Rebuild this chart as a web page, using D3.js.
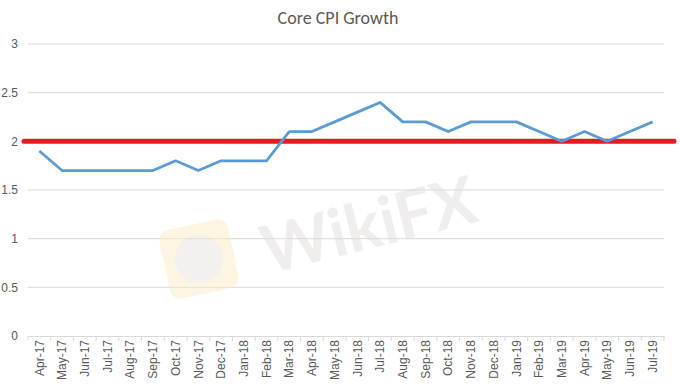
<!DOCTYPE html>
<html>
<head>
<meta charset="utf-8">
<script src="https://cdn.jsdelivr.net/npm/d3@7"></script>
<style>
  body { margin: 0; background: #fff; }
  svg { display: block; font-family: Calibri, Carlito, "Open Sans", sans-serif; }
</style>
</head>
<body>
<svg id="chart" width="680" height="386"></svg>
<script>
const months = ['Apr-17', 'May-17', 'Jun-17', 'Jul-17', 'Aug-17', 'Sep-17', 'Oct-17', 'Nov-17', 'Dec-17',
  'Jan-18', 'Feb-18', 'Mar-18', 'Apr-18', 'May-18', 'Jun-18', 'Jul-18', 'Aug-18', 'Sep-18', 'Oct-18',
  'Nov-18', 'Dec-18', 'Jan-19', 'Feb-19', 'Mar-19', 'Apr-19', 'May-19', 'Jun-19', 'Jul-19'];
const coreCpi = [1.9, 1.7, 1.7, 1.7, 1.7, 1.7, 1.8, 1.7, 1.8,
  1.8, 1.8, 2.1, 2.1, 2.2, 2.3, 2.4, 2.2, 2.2, 2.1,
  2.2, 2.2, 2.2, 2.1, 2.0, 2.1, 2.0, 2.1, 2.2];
const target = 2;
const yTicks = [0, 0.5, 1, 1.5, 2, 2.5, 3];

const svg = d3.select('#chart');
const margin = { top: 44, right: 16, bottom: 50, left: 28 };
const width = 680 - margin.left - margin.right;
const height = 386 - margin.top - margin.bottom;

const x = d3.scaleBand().domain(months).range([0, width]);
const y = d3.scaleLinear().domain([0, 3]).range([height, 0]);

// title
svg.append('text')
  .attr('x', 338).attr('y', 24)
  .attr('text-anchor', 'middle')
  .attr('fill', '#595959')
  .style('font-size', '18px')
  .text('Core CPI Growth');

const g = svg.append('g').attr('transform', `translate(${margin.left},${margin.top})`);

// gridlines
g.append('g')
  .selectAll('line')
  .data(yTicks.filter((d) => d > 0))
  .join('line')
  .attr('x1', 0).attr('x2', width)
  .attr('y1', (d) => y(d)).attr('y2', (d) => y(d))
  .attr('stroke', '#d9d9d9');

// watermark
const wm = g.append('g').attr('opacity', 0.5);
wm.append('rect')
  .attr('x', 136).attr('y', 180).attr('width', 70).attr('height', 70).attr('rx', 10)
  .attr('transform', 'rotate(-12,171,215)')
  .attr('fill', '#f9ecc4');
wm.append('circle').attr('cx', 171).attr('cy', 215).attr('r', 24).attr('fill', '#e8e2dc');
wm.append('text')
  .attr('x', 240).attr('y', 230)
  .attr('transform', 'rotate(-14,240,230)')
  .attr('fill', '#e3dcdc')
  .style('font-size', '66px')
  .style('font-weight', 'bold')
  .style('font-family', 'Lato, "Open Sans", sans-serif')
  .text('WikiFX');

// y axis
const yAxis = g.append('g')
  .call(d3.axisLeft(y).tickValues(yTicks).tickFormat(d3.format('')).tickSize(0).tickPadding(10));
yAxis.select('.domain').remove();
yAxis.selectAll('text').attr('fill', '#595959').style('font-size', '12px');

// x axis
const xAxis = g.append('g')
  .attr('transform', `translate(0,${height})`)
  .call(d3.axisBottom(x).tickSize(0).tickPadding(6));
xAxis.select('.domain').attr('stroke', '#d9d9d9');
xAxis.selectAll('text')
  .attr('fill', '#595959')
  .style('font-size', '12px')
  .attr('text-anchor', 'end')
  .attr('dy', '0.35em')
  .attr('transform', 'translate(0,4) rotate(-90)')
  .attr('x', 0).attr('y', 0);
g.append('g')
  .selectAll('line')
  .data(d3.range(months.length + 1))
  .join('line')
  .attr('x1', (i) => i * x.step()).attr('x2', (i) => i * x.step())
  .attr('y1', height).attr('y2', height + 5)
  .attr('stroke', '#d9d9d9');

// target line
g.append('line')
  .attr('x1', -4).attr('x2', width + 10)
  .attr('y1', y(target)).attr('y2', y(target))
  .attr('stroke', '#e8191f')
  .attr('stroke-width', 5)
  .attr('stroke-linecap', 'round');

// core cpi line
const line = d3.line()
  .x((d, i) => x(months[i]) + x.bandwidth() / 2)
  .y((d) => y(d));
g.append('path')
  .datum(coreCpi)
  .attr('fill', 'none')
  .attr('stroke', '#5b9bd5')
  .attr('stroke-width', 2.75)
  .attr('stroke-linejoin', 'round')
  .attr('d', line);
</script>
</body>
</html>
